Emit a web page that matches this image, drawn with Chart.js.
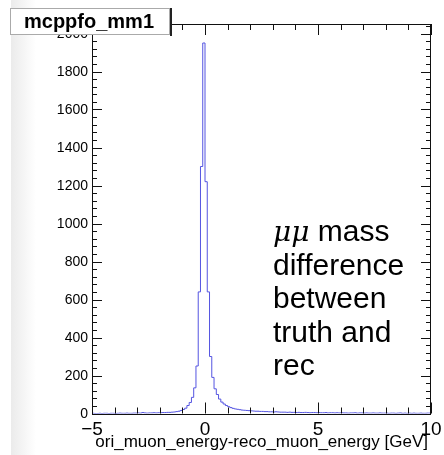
<!DOCTYPE html>
<html>
<head>
<meta charset="utf-8">
<script src="https://cdn.jsdelivr.net/npm/chart.js@4.4.1/dist/chart.umd.min.js"></script>
<style>
  html, body { margin: 0; padding: 0; background: #fff; }
  canvas { display: block; }
</style>
</head>
<body>
<canvas id="hist" width="444" height="455"></canvas>
<script>
// histogram: 150 bins of 0.1 GeV from -5 to 10
const X_MIN = -5;
const X_MAX = 10;
const BIN_W = 0.1;

const counts = [
  // -5 .. -4
  0, 1, 0, 0, 1, 0, 1, 1, 0, 1,
  // -4 .. -3
  1, 0, 1, 2, 1, 1, 2, 1, 1, 2,
  // -3 .. -2
  2, 3, 2, 5, 3, 2, 3, 3, 4, 3,
  // -2 .. -1
  4, 4, 5, 5, 6, 6, 7, 8, 10, 12,
  // -1 .. 0
  16, 21, 28, 42, 58, 85, 135, 250, 640, 1300,
  // 0 .. 1
  1950, 1220, 640, 300, 190, 130, 100, 76, 60, 50,
  // 1 .. 2
  42, 36, 31, 27, 24, 22, 20, 18, 17, 16,
  // 2 .. 3
  15, 14, 13, 12, 12, 11, 11, 10, 10, 9,
  // 3 .. 4
  9, 8, 9, 8, 7, 7, 7, 6, 7, 6,
  // 4 .. 5
  6, 5, 6, 5, 5, 6, 5, 4, 5, 5,
  // 5 .. 6
  4, 5, 4, 4, 5, 3, 4, 4, 3, 4,
  // 6 .. 7
  3, 4, 3, 3, 2, 3, 3, 4, 2, 3,
  // 7 .. 8
  3, 2, 3, 2, 2, 3, 2, 2, 3, 2,
  // 8 .. 9
  2, 2, 1, 2, 2, 1, 2, 3, 1, 2,
  // 9 .. 10
  1, 2, 1, 2, 1, 1, 2, 1, 1, 2,
];

const Y_MAX = 2050;
const xTickValues = [-5, 0, 5, 10];
const xTickLabels = ["\u22125", "0", "5", "10"];
const yTickValues = [0, 200, 400, 600, 800, 1000, 1200, 1400, 1600, 1800, 2000];
const yTickLabels = ["0", "200", "400", "600", "800", "1000", "1200", "1400", "1600", "1800", "2000"];
const X_MINOR = 1;
const Y_MINOR = 40;

const histTitle = "mcppfo_mm1";
const xTitle = "ori_muon_energy-reco_muon_energy [GeV]";
const noteLines = [["\u03bc\u03bc", " mass"], ["", "difference"], ["", "between"], ["", "truth and"], ["", "rec"]];

const SANS = '"Liberation Sans", Arial, Helvetica, sans-serif';

const points = counts.map((c, i) => ({ x: X_MIN + i * BIN_W, y: c }));
points.push({ x: X_MAX, y: counts[counts.length - 1] });

const rootStyle = {
  id: "rootStyle",
  beforeDraw(chart) {
    const c = chart.ctx;
    c.save();
    c.fillStyle = "#fff";
    c.fillRect(0, 0, chart.width, chart.height);
    const g = c.createLinearGradient(11, 0, 36, 0);
    g.addColorStop(0, "#ebebeb");
    g.addColorStop(1, "#ffffff");
    c.fillStyle = g;
    c.fillRect(11, 0, 25, chart.height);
    c.restore();
  },
  afterDraw(chart) {
    const c = chart.ctx;
    const a = chart.chartArea;
    const xs = chart.scales.x;
    const ys = chart.scales.y;
    c.save();
    c.strokeStyle = "#111";
    c.lineWidth = 1;

    // frame
    c.strokeRect(Math.round(a.left) + 0.5, Math.round(a.top) + 0.5,
      Math.round(a.right - a.left) - 1, Math.round(a.bottom - a.top));

    c.beginPath();
    // x ticks (bottom + top)
    for (let v = X_MIN; v <= X_MAX + 1e-9; v += X_MINOR) {
      const px = Math.round(xs.getPixelForValue(v)) + 0.5;
      const major = xTickValues.includes(v);
      const len = major ? 11 : 6;
      c.moveTo(px, a.bottom);
      c.lineTo(px, a.bottom - len);
      c.moveTo(px, a.top);
      c.lineTo(px, a.top + len);
    }
    // y ticks (left + right)
    for (let v = 0; v <= Y_MAX; v += Y_MINOR) {
      const py = Math.round(ys.getPixelForValue(v)) + 0.5;
      const major = v % 200 === 0;
      const len = major ? 10 : 5;
      c.moveTo(a.left, py);
      c.lineTo(a.left + len, py);
      c.moveTo(a.right, py);
      c.lineTo(a.right - len, py);
    }
    c.stroke();

    // y labels
    c.fillStyle = "#000";
    c.font = "14px " + SANS;
    c.textAlign = "right";
    c.textBaseline = "middle";
    yTickValues.forEach((v, i) => {
      c.fillText(yTickLabels[i], a.left - 4, ys.getPixelForValue(v) + 1);
    });

    // x labels
    c.font = "19px " + SANS;
    c.textAlign = "center";
    c.textBaseline = "alphabetic";
    xTickValues.forEach((v, i) => {
      c.fillText(xTickLabels[i], xs.getPixelForValue(v), 435);
    });

    // x title
    c.font = "17px " + SANS;
    c.textAlign = "right";
    c.fillText(xTitle, 428, 447);

    // title box
    c.fillStyle = "#fff";
    c.fillRect(10, 8, 160, 27);
    c.strokeStyle = "#aaa";
    c.strokeRect(10.5, 8.5, 159, 26);
    c.strokeStyle = "#222";
    c.lineWidth = 2;
    c.beginPath();
    c.moveTo(171, 8);
    c.lineTo(171, 36);
    c.stroke();
    c.fillStyle = "#000";
    c.font = "bold 20px " + SANS;
    c.textAlign = "center";
    c.fillText(histTitle, 89, 28);

    // note
    c.textAlign = "left";
    noteLines.forEach((ln, i) => {
      let x = 273;
      const y = 241 + i * 33.5;
      if (ln[0]) {
        c.font = "italic 28px \"DejaVu Serif\", serif";
        c.fillText(ln[0], x, y);
        x += c.measureText(ln[0]).width;
      }
      c.font = "30px " + SANS;
      c.fillText(ln[1], x, y);
    });
    c.restore();
  },
};

new Chart(document.getElementById("hist").getContext("2d"), {
  type: "line",
  data: {
    datasets: [
      {
        data: points,
        stepped: "after",
        borderColor: "rgb(85,85,225)",
        borderWidth: 1,
        pointRadius: 0,
        fill: false,
      },
    ],
  },
  options: {
    responsive: false,
    animation: false,
    devicePixelRatio: 1,
    layout: { padding: { left: 92, top: 24, right: 13, bottom: 41.5 } },
    plugins: { legend: { display: false }, tooltip: { enabled: false } },
    scales: {
      x: { type: "linear", min: X_MIN, max: X_MAX, display: false },
      y: { min: 0, max: Y_MAX, display: false },
    },
  },
  plugins: [rootStyle],
});
</script>
</body>
</html>
